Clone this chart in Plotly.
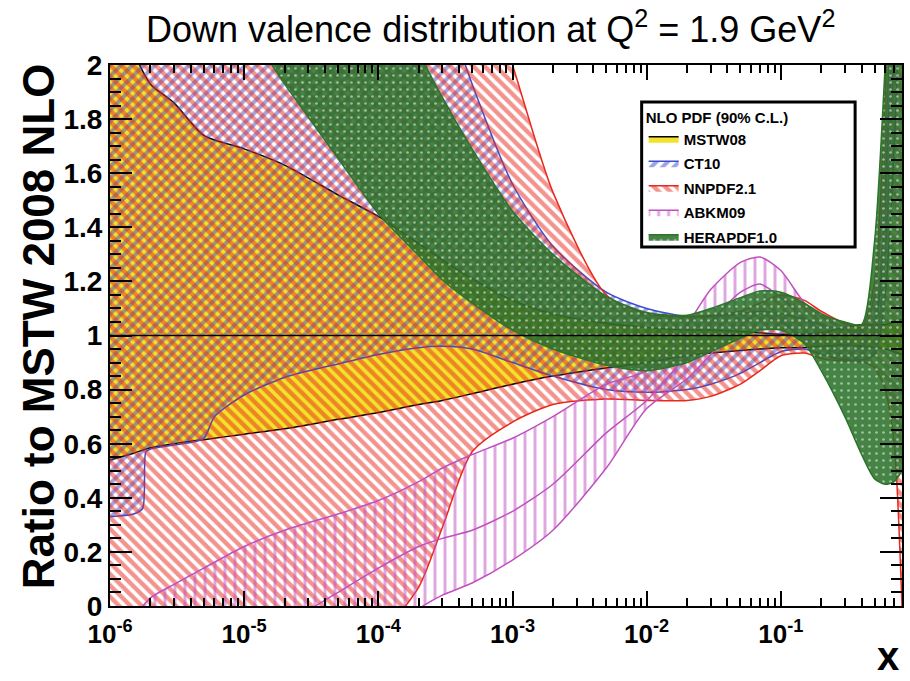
import plotly.graph_objects as go

# Momentum fraction grid shared by most curves
X = [1e-6, 1.5e-6, 2e-6, 3e-6, 5e-6, 1e-5, 2e-5, 5e-5, 1e-4, 2e-4, 3e-4, 5e-4,
     1e-3, 2e-3, 5e-3, 0.01, 0.02, 0.03, 0.05, 0.07, 0.1, 0.15, 0.2, 0.3, 0.4,
     0.5, 0.6, 0.7, 0.8]

# MSTW08 90% C.L. band (ratio to MSTW08 central value)
mstw_hi = [2.3, 2.05, 1.93, 1.86, 1.74, 1.69, 1.63, 1.52, 1.44, 1.34, 1.28, 1.21,
           1.13, 1.08, 1.045, 1.03, 1.02, 1.02, 1.015, 1.01, 1.005, 1.005, 1.01, 1.03, 1.04,
           1.04, 1.04, 1.05, 1.06]
mstw_lo = [0.54, 0.565, 0.585, 0.60, 0.615, 0.635, 0.655, 0.69, 0.715, 0.745, 0.76, 0.785,
           0.82, 0.85, 0.88, 0.90, 0.925, 0.935, 0.945, 0.95, 0.955, 0.955, 0.96, 0.965, 0.96,
           0.955, 0.95, 0.94, 0.93]
mstw_central = [1.0] * len(X)

# CT10
ct10_hi = [3.0, 3.0, 3.0, 3.0, 3.0, 3.0, 3.0, 3.0, 2.9, 2.5, 2.25, 1.93,
           1.56, 1.33, 1.16, 1.10, 1.07, 1.07, 1.08, 1.09, 1.08, 1.06, 1.04, 1.02, 1.02,
           1.05, 1.55, 2.3, 3.0]
ct10_lo_x = [1e-6, 1.5e-6, 1.75e-6, 1.85e-6, 2e-6, 3e-6, 5e-6, 6e-6, 1e-5, 2e-5, 5e-5,
             1e-4, 2e-4, 3e-4, 5e-4, 1e-3, 2e-3, 5e-3, 0.01, 0.02, 0.03, 0.05, 0.07,
             0.1, 0.15, 0.2, 0.3, 0.4, 0.5, 0.6, 0.7, 0.8]
ct10_lo = [0.33, 0.34, 0.36, 0.57, 0.58, 0.595, 0.62, 0.70, 0.78, 0.845, 0.895,
           0.93, 0.955, 0.96, 0.95, 0.90, 0.85, 0.80, 0.79, 0.80, 0.82, 0.86, 0.90,
           0.94, 0.95, 0.93, 0.91, 0.91, 0.93, 1.15, 1.7, 2.4]

# NNPDF2.1
nnpdf_hi = [3.0, 3.0, 3.0, 3.0, 3.0, 3.0, 3.0, 3.0, 3.0, 2.9, 2.7, 2.45,
            2.0, 1.53, 1.15, 1.08, 1.07, 1.075, 1.09, 1.12, 1.15, 1.13, 1.09, 1.045, 1.03,
            1.2, 1.9, 2.8, 3.5]
nnpdf_lo = [-0.5, -0.5, -0.5, -0.5, -0.45, -0.4, -0.35, -0.25, -0.12, 0.07, 0.29, 0.57,
            0.68, 0.745, 0.765, 0.76, 0.76, 0.775, 0.82, 0.87, 0.925, 0.935, 0.915, 0.905, 0.905,
            0.88, 0.8, 0.6, 0.0]

# ABKM09
abkm_hi = [-0.12, -0.04, 0.03, 0.08, 0.14, 0.22, 0.28, 0.34, 0.39, 0.46, 0.51, 0.56,
           0.62, 0.70, 0.82, 0.87, 1.04, 1.17, 1.27, 1.29, 1.24, 1.12, 1.07, 1.03, 1.01,
           1.15, 1.7, 2.5, 3.2]
abkm_mid = [-0.5, -0.45, -0.4, -0.35, -0.28, -0.18, -0.07, 0.05, 0.14, 0.22, 0.25, 0.28,
            0.35, 0.45, 0.64, 0.76, 0.93, 1.05, 1.16, 1.19, 1.14, 1.06, 1.02, 0.975, 0.955,
            1.05, 1.5, 2.3, 3.0]
abkm_lo = [-1.0, -0.95, -0.9, -0.85, -0.75, -0.6, -0.45, -0.25, -0.12, -0.01, 0.04, 0.085,
           0.17, 0.28, 0.51, 0.73, 0.84, 0.93, 1.04, 1.08, 1.05, 0.99, 0.96, 0.92, 0.90,
           0.95, 1.3, 2.1, 2.8]

# HERAPDF1.0
hera_hi = [3.5, 3.5, 3.5, 3.4, 3.3, 3.2, 3.0, 2.8, 2.4, 2.05, 1.88, 1.69,
           1.46, 1.30, 1.145, 1.085, 1.075, 1.10, 1.14, 1.165, 1.16, 1.12, 1.08, 1.05, 1.04,
           1.35, 2.0, 2.6, 3.2]
hera_lo = [2.8, 2.7, 2.6, 2.45, 2.3, 2.15, 1.93, 1.655, 1.45, 1.295, 1.205, 1.12,
           1.02, 0.95, 0.89, 0.87, 0.90, 0.94, 0.99, 1.02, 1.02, 0.97, 0.87, 0.70, 0.56,
           0.47, 0.45, 0.46, 0.5]

X_TICKS = [1e-6, 1e-5, 1e-4, 1e-3, 1e-2, 1e-1]
X_TICK_TEXT = ["10<sup>-6</sup>", "10<sup>-5</sup>", "10<sup>-4</sup>",
               "10<sup>-3</sup>", "10<sup>-2</sup>", "10<sup>-1</sup>"]

YELLOW = "#f3e22c"
BLUE = "#3c4ccc"
RED = "#e8281c"
MAGENTA = "#c050c0"
GREEN = "#2b752b"
FONT = "Liberation Sans, Arial, Helvetica, sans-serif"

fig = go.Figure()
SPLINE = dict(shape="spline", smoothing=0.7)


def add_band(name, x_lo, lo, x_hi, hi, edge, fillcolor=None, pattern=None):
    fig.add_trace(go.Scatter(
        x=x_lo, y=lo, mode="lines", legendgroup=name, showlegend=False,
        line=dict(color=edge, width=1.5, **SPLINE), hoverinfo="skip"))
    kw = dict(fill="tonexty")
    if pattern is not None:
        kw["fillcolor"] = "rgba(0,0,0,0)"
        kw["fillpattern"] = pattern
    else:
        kw["fillcolor"] = fillcolor
    fig.add_trace(go.Scatter(
        x=x_hi, y=hi, mode="lines", name=name, legendgroup=name,
        line=dict(color=edge, width=1.5, **SPLINE), **kw))


add_band("MSTW08", X, mstw_lo, X, mstw_hi, "black", fillcolor=YELLOW)
add_band("CT10", ct10_lo_x, ct10_lo, X, ct10_hi, BLUE,
         pattern=dict(shape="/", fgcolor=BLUE, bgcolor="rgba(0,0,0,0)",
                      size=8, solidity=0.5))
add_band("NNPDF2.1", X, nnpdf_lo, X, nnpdf_hi, RED,
         pattern=dict(shape="\\", fgcolor=RED, bgcolor="rgba(0,0,0,0)",
                      size=8, solidity=0.55))
add_band("ABKM09", X, abkm_lo, X, abkm_hi, MAGENTA,
         pattern=dict(shape="|", fgcolor=MAGENTA, bgcolor="rgba(0,0,0,0)",
                      size=10, solidity=0.3))
fig.add_trace(go.Scatter(x=X, y=abkm_mid, mode="lines", showlegend=False,
                         legendgroup="ABKM09",
                         line=dict(color=MAGENTA, width=1.5, **SPLINE)))
add_band("HERAPDF1.0", X, hera_lo, X, hera_hi, GREEN,
         pattern=dict(shape=".", fgcolor="white", fgopacity=0.5,
                      bgcolor="rgba(40,112,40,0.86)", size=7, solidity=0.12))
fig.add_trace(go.Scatter(x=X, y=mstw_central, mode="lines", showlegend=False,
                         line=dict(color="black", width=1.5)))


def px_to_paper_x(px):
    return (px - 110) / 794.0


def px_to_paper_y(py):
    return (606 - py) / 541.0


fig.update_layout(
    width=910, height=681,
    margin=dict(l=110, r=6, t=65, b=75),
    paper_bgcolor="white", plot_bgcolor="white",
    font=dict(family=FONT, color="black"),
    showlegend=True,
    legend=dict(
        x=px_to_paper_x(645), y=px_to_paper_y(103), xanchor="left", yanchor="top",
        bgcolor="rgba(0,0,0,0)", borderwidth=0,
        font=dict(size=15, family=FONT, weight="bold"),
        title=dict(text="NLO PDF (90% C.L.)", font=dict(size=15, weight="bold")),
        tracegroupgap=2,
    ),
    shapes=[dict(type="rect", xref="paper", yref="paper",
                 x0=px_to_paper_x(643), x1=px_to_paper_x(857),
                 y0=px_to_paper_y(247), y1=px_to_paper_y(102),
                 line=dict(color="black", width=3), fillcolor="white", layer="above")],
    annotations=[
        dict(text="Down valence distribution at Q<sup>2</sup> = 1.9 GeV<sup>2</sup>",
             xref="paper", yref="paper", x=px_to_paper_x(491.5), y=px_to_paper_y(27),
             xanchor="center", yanchor="middle", showarrow=False,
             font=dict(size=36, family=FONT)),
        dict(text="Ratio to MSTW 2008 NLO", textangle=-90,
             xref="paper", yref="paper", x=px_to_paper_x(38), y=px_to_paper_y(326),
             xanchor="center", yanchor="middle", showarrow=False,
             font=dict(size=44, family=FONT, weight="bold")),
        dict(text="x", xref="paper", yref="paper",
             x=px_to_paper_x(903), y=px_to_paper_y(680),
             xanchor="right", yanchor="bottom", showarrow=False,
             font=dict(size=40, family=FONT, weight="bold")),
    ],
)

fig.update_xaxes(
    type="log", range=[-6, -0.0969], tickvals=X_TICKS, ticktext=X_TICK_TEXT,
    ticks="inside", ticklen=15, tickwidth=2, tickcolor="black",
    minor=dict(ticks="inside", ticklen=8, tickwidth=1.5, tickcolor="black", dtick="D1",
               showgrid=False),
    showline=True, linecolor="black", linewidth=2, mirror="allticks",
    showgrid=False, zeroline=False, ticklabelstandoff=4,
    tickfont=dict(size=26, family=FONT, weight="bold"),
)
fig.update_yaxes(
    range=[0, 2], dtick=0.2, tick0=0,
    ticks="inside", ticklen=22, tickwidth=2, tickcolor="black",
    minor=dict(ticks="inside", ticklen=11, tickwidth=1.5, tickcolor="black", dtick=0.05,
               showgrid=False),
    showline=True, linecolor="black", linewidth=2, mirror="allticks",
    showgrid=False, zeroline=False,
    tickfont=dict(size=28, family=FONT, weight="bold"),
)

fig.write_html("out.html")
